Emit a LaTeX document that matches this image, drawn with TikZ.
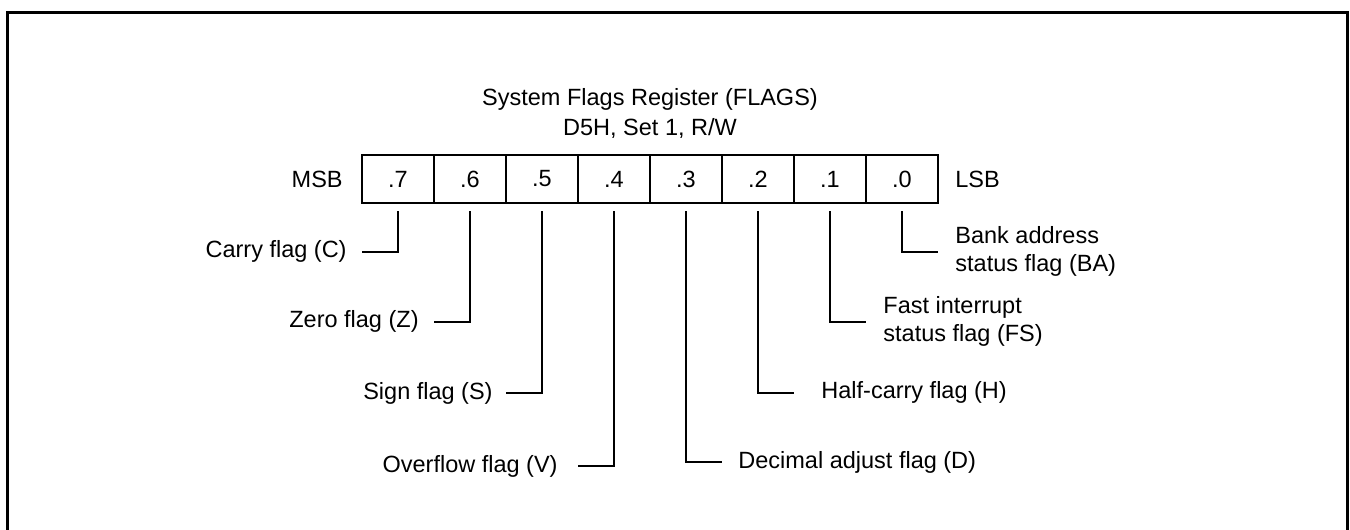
\documentclass[tikz,border=0pt]{standalone}
\usepackage{fontspec}
\setmainfont{Liberation Sans}
\usetikzlibrary{positioning}

\begin{document}
\begin{tikzpicture}[
    x=0.5pt, y=-0.5pt,
    font=\fontsize{11.75}{14}\selectfont,
    bitcell/.style={draw, line width=1pt, minimum width=36pt, minimum height=24pt,
      inner sep=0pt, outer sep=0pt},
    lead/.style={line width=1pt},
    flagl/.style={anchor=east, align=right, inner ysep=0pt, inner xsep=#1},
    flagl/.default=7.5pt,
    flagr/.style={anchor=west, align=left, inner ysep=0pt, inner xsep=#1},
    flagr/.default=8.5pt
  ]
  \useasboundingbox (0,0) rectangle (1350,530);
  \draw[line width=1.5pt] (7.5,12.5) rectangle (1347,560);

  \node[align=center, anchor=north, inner sep=0pt] (title) at (650,88.5)
    {System Flags Register (FLAGS)\\[1pt] D5H, Set 1, R/W};

  % register bits, MSB first
  \foreach \b [count=\i from 0] in {7,...,0}
    \node[bitcell] (b\b) at (398+72*\i,179) {.\b};
  \node[left=9.5pt of b7, inner sep=0pt] (msb) {MSB};
  \node[right=8.5pt of b0, inner sep=0pt] (lsb) {LSB};

  % flag names
  \node[flagl] (carry) at (362,251.7) {Carry flag (C)};
  \node[flagl] (zero) at (434,321.5) {Zero flag (Z)};
  \node[flagl=6.5pt] (sign) at (506,393.3) {Sign flag (S)};
  \node[flagl=10pt] (ovf) at (578,466) {Overflow flag (V)};
  \node[flagr] (bank) at (938,251.7) {Bank address\\status flag (BA)};
  \node[flagr] (fast) at (866,321.7) {Fast interrupt\\status flag (FS)};
  \node[flagr=13.5pt] (half) at (794,392.7) {Half-carry flag (H)};
  \node[flagr=8pt] (dec) at (722,462) {Decimal adjust flag (D)};

  \foreach \b/\f in {7/carry,6/zero,5/sign,4/ovf}
    \draw[lead] ([yshift=-4pt]b\b.south) |- (\f.east);
  \foreach \b/\f in {3/dec,2/half,1/fast,0/bank}
    \draw[lead] ([yshift=-4pt]b\b.south) |- (\f.west);
\end{tikzpicture}
\end{document}
